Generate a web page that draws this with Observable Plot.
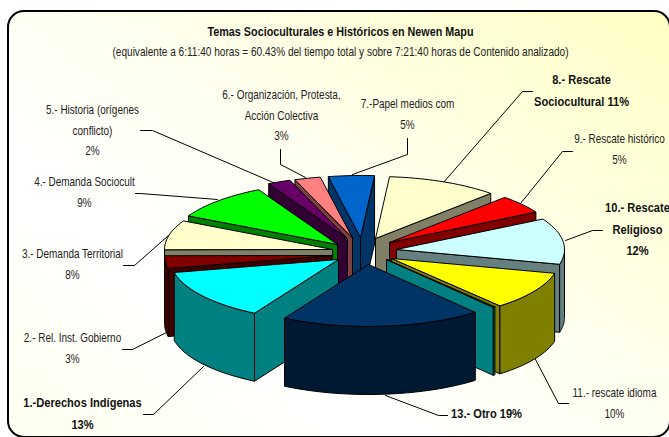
<!DOCTYPE html>
<html><head><meta charset="utf-8">
<script src="https://cdn.jsdelivr.net/npm/d3@7"></script>
<script src="https://cdn.jsdelivr.net/npm/@observablehq/plot@0.6"></script>
<style>
html,body{margin:0;padding:0;background:#fff;width:669px;height:437px;overflow:hidden}
#frame{position:absolute;left:7px;top:10px;width:664px;height:428px;box-sizing:border-box;border:2.5px solid #000;border-radius:17px;background:linear-gradient(215deg,#ffffc4 0%,#fffff0 45%,#ffffff 70%,#fffff0 100%)}
#chart{position:absolute;left:0;top:0}
svg{background:transparent!important}
</style></head><body><div id="frame"></div><div id="chart"></div>
<script>
// ---- data ----
const values = [13.3,3.3,7.7,9.6,2.2,2.5,4.4,10.7,4.8,12,10,0.2,19.3];
const topColors = ["#00ffff","#800000","#ffffcc","#00ff00","#660066","#ff8080","#0066cc","#ffffcc","#ff0000","#ccffff","#ffff00","#008080","#003366"];
const sideColors = ["#008080","#400000","#808066","#008000","#330033","#804040","#003366","#808066","#800000","#668080","#808000","#008080","#001933"];
const titleText = "Temas Socioculturales e Históricos en Newen Mapu";
const subtitleText = "(equivalente a 6:11:40 horas = 60.43% del tiempo total y sobre 7:21:40 horas de Contenido analizado)";

// ---- 3D pie geometry derived from the values ----
const cx=362, cy=245, rx=168, ry=62, depth=68, start=210*Math.PI/180;
// per-slice explosion of the pie, in px away from its centre
const explodeX=[-24,-30,-30,-25,-15,-10,-2,13,27,34,29,24,6];
const explodeY=[14,10,4,-1,-7,-7.5,-8,-7,-3,4,13,14,19];
const total=d3.sum(values);
let acc=start;
const slices=values.map((v,i)=>{const a=acc,b=acc+v/total*2*Math.PI;acc=b;const m=(a+b)/2;
  return {i,a,b,m,ox:explodeX[i],oy:explodeY[i]};});
const rim=(s,t,z)=>({x:cx+s.ox+rx*Math.sin(t),y:cy+s.oy-ry*Math.cos(t)+depth*z});
const apex=(s,z)=>({x:cx+s.ox,y:cy+s.oy+depth*z});
const polys=[];let pid=0;
function add(pts,fill){pid++;pts=[...pts,pts[0]];pts.forEach(p=>polys.push({id:pid,x:p.x,y:p.y,fill}));}
function arcRange(a,b,n){return d3.range(n+1).map(k=>a+(b-a)*k/n);}
const rank=s=>s.oy/ry-Math.cos(s.m)*.6;
[...slices].sort((p,q)=>rank(p)-rank(q)).forEach(s=>{
  const side=sideColors[s.i],top=topColors[s.i];
  if(Math.sin(s.a)<0) add([apex(s,0),rim(s,s.a,0),rim(s,s.a,1),apex(s,1)],side);
  if(Math.sin(s.b)>0) add([apex(s,0),rim(s,s.b,0),rim(s,s.b,1),apex(s,1)],side);
  for(const shift of [0,2*Math.PI]){
    const lo=Math.max(s.a,Math.PI/2+shift),hi=Math.min(s.b,1.5*Math.PI+shift);
    if(hi>lo){const ts=arcRange(lo,hi,24);add([...ts.map(t=>rim(s,t,0)),...ts.reverse().map(t=>rim(s,t,1))],side);}
  }
  add([apex(s,0),...arcRange(s.a,s.b,Math.max(4,Math.ceil((s.b-s.a)*24))).map(t=>rim(s,t,0))],top);
});

// ---- labels and leaders (page layout) ----
const labels=[
 {t:"1.-Derechos Indígenas\n13%",x:82,y:392,b:1},
 {t:"2.- Rel. Inst. Gobierno\n3%",x:72,y:327},
 {t:"3.- Demanda Territorial\n8%",x:72,y:243},
 {t:"4.- Demanda Sociocult\n9%",x:84,y:171},
 {t:"5.- Historia (orígenes\nconflicto)\n2%",x:92,y:99},
 {t:"6.- Organización, Protesta,\nAcción Colectiva\n3%",x:281,y:84},
 {t:"7.-Papel medios com\n5%",x:407,y:93},
 {t:"8.- Rescate\nSociocultural 11%",x:581,y:69,b:1},
 {t:"9.- Rescate histórico\n5%",x:619,y:128},
 {t:"10.- Rescate\nReligioso\n12%",x:637,y:197,b:1},
 {t:"11.- rescate idioma\n10%",x:614,y:382},
 {t:"13.- Otro 19%",x:486,y:403,b:1}
];
const leaders=[
 [[203,366],[153,414],[143,414]],
 [[166,332],[132,349],[122,349]],
 [[168,235],[134,265],[123,265]],
 [[217,199],[140,193],[135,193]],
 [[275,183],[152,130],[140,130]],
 [[305,177],[280,164],[280,149]],
 [[352,174],[407,154],[407,138]],
 [[443,182],[522,91],[532,91]],
 [[520,203],[562,151],[572,151]],
 [[565,240],[592,230],[602,230]],
 [[535,359],[558,403],[568,403]],
 [[385,395],[438,415],[447,415]]
].flatMap((l,i)=>l.map(p=>({i,x:p[0],y:p[1]})));

const font='"Liberation Sans",sans-serif';
const chart=Plot.plot({
  width:669,height:437,margin:0,
  x:{domain:[0,669],range:[0,669],axis:null},
  y:{domain:[0,437],range:[0,437],axis:null},
  style:{background:"transparent",fontFamily:font},
  marks:[
    Plot.line(leaders,{x:"x",y:"y",z:"i",stroke:"#000",strokeWidth:1,curve:"linear"}),
    Plot.line(polys,{x:"x",y:"y",z:"id",fill:"fill",stroke:"#000",strokeWidth:1,strokeLinejoin:"round",curve:"linear"}),
    Plot.text([titleText],{x:()=>340,y:()=>32,text:d=>d,fontWeight:"bold",fontSize:12,fill:"#111",className:"sx90"}),
    Plot.text([subtitleText],{x:()=>340,y:()=>52,text:d=>d,fontSize:12,fill:"#222",className:"sx84"}),
    Plot.text(labels.filter(d=>!d.b),{x:"x",y:"y",text:"t",lineHeight:1.72,lineAnchor:"top",fontSize:12,fill:"#222",className:"sx83"}),
    Plot.text(labels.filter(d=>d.b),{x:"x",y:"y",text:"t",lineHeight:1.62,lineAnchor:"top",fontWeight:"bold",fontSize:13,fill:"#111",className:"sx85"})
  ]
});
for(const [c,k] of [["sx90",.9],["sx84",.84],["sx83",.83],["sx85",.855]])
  chart.querySelectorAll("."+c+" text, g."+c+" text").forEach(t=>{
    const tr=t.getAttribute("transform")||"";
    t.setAttribute("transform",tr+` scale(${k},1)`);
  });
document.getElementById("chart").append(chart);
</script></body></html>
